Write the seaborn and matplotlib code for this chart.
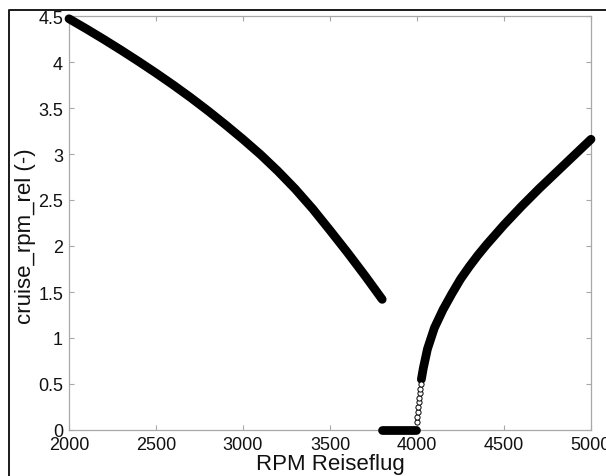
import matplotlib
matplotlib.use("Agg")
import matplotlib.pyplot as plt
from matplotlib.lines import Line2D
import seaborn as sns
import pandas as pd

# ---- data ----
left_rpm = [2000, 2100, 2200, 2300, 2400, 2500, 2600, 2700, 2800, 2900, 3000,
            3100, 3200, 3300, 3400, 3500, 3600, 3700, 3800]
left_val = [4.470, 4.360, 4.246, 4.128, 4.006, 3.880, 3.749, 3.612, 3.468, 3.317,
            3.160, 2.995, 2.815, 2.620, 2.405, 2.170, 1.930, 1.680, 1.420]

zero_rpm = [3800, 3850, 3900, 3950, 3995]
zero_val = [0, 0, 0, 0, 0]

hollow_rpm = [4001, 4002, 4004, 4006, 4009, 4012, 4016, 4020, 4025]
hollow_val = [0.09, 0.14, 0.20, 0.25, 0.30, 0.35, 0.40, 0.45, 0.50]

right_rpm = [4025, 4036, 4060, 4100, 4150, 4200, 4250, 4300, 4350, 4400,
             4500, 4600, 4700, 4800, 4900, 5000]
right_val = [0.55, 0.67, 0.88, 1.11, 1.31, 1.48, 1.64, 1.775, 1.90, 2.015,
             2.23, 2.43, 2.62, 2.80, 2.98, 3.16]

x_ticks = [2000, 2500, 3000, 3500, 4000, 4500, 5000]
y_ticks = [0, 0.5, 1, 1.5, 2, 2.5, 3, 3.5, 4, 4.5]
y_tick_labels = ["0", "0.5", "1", "1.5", "2", "2.5", "3", "3.5", "4", "4.5"]

x_label = "RPM Reiseflug"
y_label = "cruise_rpm_rel (-)"

# ---- styling ----
sns.set_style("white")
plt.rcParams["font.family"] = ["Liberation Sans", "DejaVu Sans"]

fig = plt.figure(figsize=(6.06, 4.77), dpi=100)
ax = fig.add_axes([69 / 606, 1 - 431 / 477, 522 / 606, 414 / 477])

lw = 6.3
for xs, ys in [(left_rpm, left_val), (zero_rpm, zero_val), (right_rpm, right_val)]:
    df = pd.DataFrame({"rpm": xs, "val": ys})
    sns.lineplot(data=df, x="rpm", y="val", ax=ax, color="black", linewidth=lw,
                 solid_capstyle="round", solid_joinstyle="round", clip_on=False,
                 zorder=3)

dfh = pd.DataFrame({"rpm": hollow_rpm, "val": hollow_val})
sns.scatterplot(data=dfh, x="rpm", y="val", ax=ax, marker="o", s=14,
                facecolor="white", edgecolor="black", linewidth=0.7, zorder=4,
                clip_on=False)

ax.set_xlim(2000, 5000)
ax.set_ylim(0, 4.5)
ax.set_xticks(x_ticks)
ax.set_xticklabels([str(t) for t in x_ticks])
ax.set_yticks(y_ticks)
ax.set_yticklabels(y_tick_labels)

for s in ax.spines.values():
    s.set_color("#a8a8a8")
    s.set_linewidth(0.9)
    s.set_visible(True)

ax.tick_params(axis="both", which="both", direction="in", length=3.6,
               width=0.8, color="#a8a8a8", labelsize=13, labelcolor="#111111",
               top=True, right=True, bottom=True, left=True, pad=4.3)

ax.set_xlabel(x_label, fontsize=16, color="#111111")
ax.set_ylabel(y_label, fontsize=16, color="#111111")
ax.xaxis.set_label_coords(0.5, -0.056)
ax.yaxis.set_label_coords(-0.064, 0.47)

# outer frame of the screenshot
fig.add_artist(Line2D([8.5 / 606, 8.5 / 606, 1.0], [0.0, 1 - 10.5 / 477, 1 - 10.5 / 477],
                      transform=fig.transFigure, color="#1a1a1a", linewidth=1.4))

fig.savefig("out.png", dpi=100, facecolor="white")
